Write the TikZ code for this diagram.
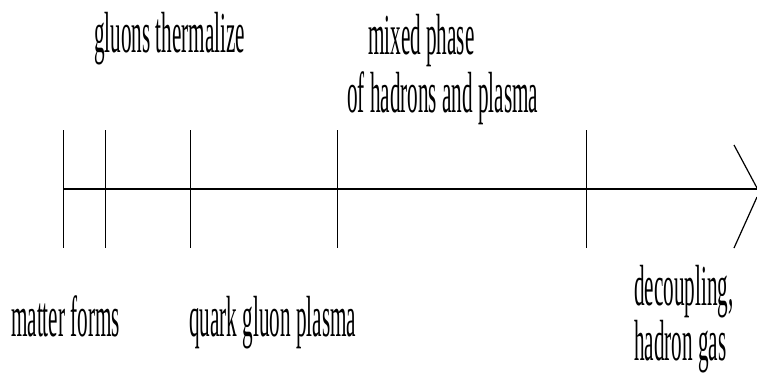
\documentclass[tikz,border=0pt]{standalone}
\usepackage{fontspec}
\newfontfamily\lblfont[FakeStretch=0.365]{Liberation Serif}
\tikzset{lbl/.style={anchor=base west,inner sep=0pt,font=\lblfont\fontsize{58}{64}\selectfont}}
\begin{document}
\begin{tikzpicture}[x=1pt,y=-1pt]
\useasboundingbox (0,0) rectangle (757,376);
\coordinate (start) at (63,189);
\coordinate (tip) at (757,189);
\draw[line width=2pt] (start) -- (tip);
\foreach \t in {63,105,190,337,586}
  \draw[line width=0.8pt] (\t,130) -- (\t,248);
\coordinate (up) at (734,145);
\coordinate (upend) at (757,188);
\coordinate (lo) at (734,248);
\coordinate (loend) at (757,197);
\draw[line width=1.2pt] (up) -- (upend);
\draw[line width=1.2pt] (lo) -- (loend);
\node[lbl] (gluons) at (94,52) {gluons thermalize};
\node[lbl] (mixed) at (368,54) {mixed phase};
\node[lbl] (hadpl) at (347,112) {of hadrons and plasma};
\node[lbl] (matter) at (11,336) {matter forms};
\node[lbl] (qgp) at (189,336) {quark gluon plasma};
\node[lbl] (decoup) at (634,305) {decoupling,};
\node[lbl] (hgas) at (634,360) {hadron gas};
\end{tikzpicture}
\end{document}
